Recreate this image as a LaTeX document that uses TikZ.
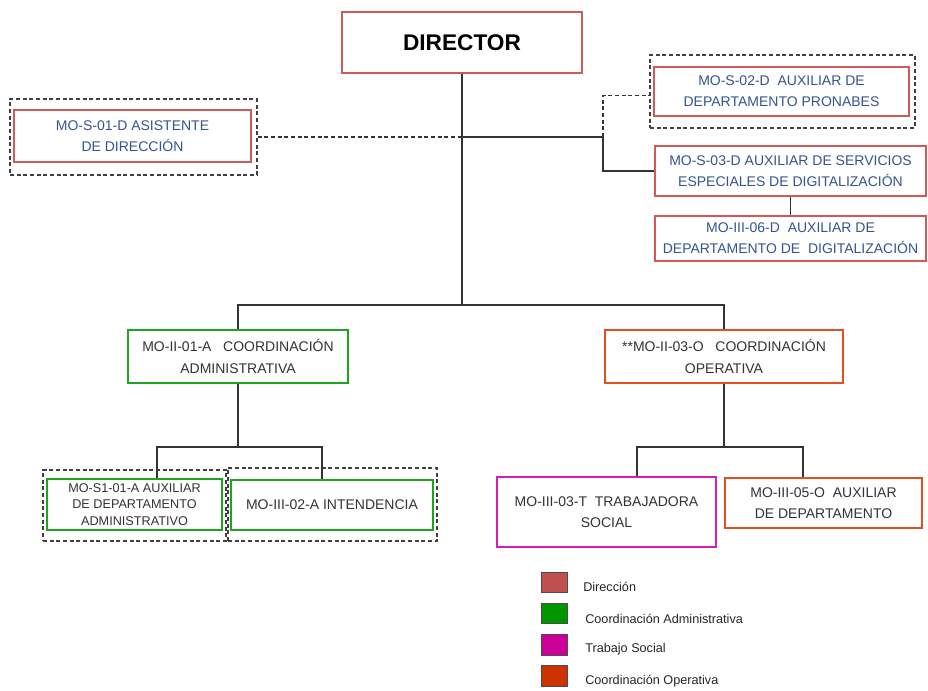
\documentclass[tikz,border=0pt]{standalone}
\usepackage{fontspec}
\setmainfont{Liberation Sans}
\definecolor{dirred}{RGB}{212,88,88}
\definecolor{admgreen}{RGB}{30,165,30}
\definecolor{opsorange}{RGB}{228,78,32}
\definecolor{socmag}{RGB}{214,30,176}
\definecolor{dirtext}{RGB}{52,84,146}
\definecolor{legdir}{RGB}{192,80,77}
\definecolor{legadm}{RGB}{0,150,0}
\definecolor{legsoc}{RGB}{204,0,153}
\definecolor{legops}{RGB}{204,51,0}
\usetikzlibrary{positioning,calc}
\tikzset{
  post/.style={draw, line width=1.6pt, fill=white, align=center, inner sep=2pt,
              font=\fontsize{10.5}{16}\selectfont, text=black!80},
  dirbox/.style={post, draw=dirred, text=dirtext},
  admbox/.style={post, draw=admgreen},
  opsbox/.style={post, draw=opsorange},
  socbox/.style={post, draw=socmag},
  frame/.style={draw=black!75, densely dashed, line width=0.9pt},
  link/.style={draw=black!80, line width=1pt},
  legsq/.style={draw=black!70, line width=0.8pt, minimum width=20pt, minimum height=15.5pt, inner sep=0pt},
  legtxt/.style={anchor=west, font=\fontsize{9.5}{11}\selectfont, text=black!85, inner sep=0pt},
}

\begin{document}
\begin{tikzpicture}[x=0.75pt,y=-0.75pt]
  \useasboundingbox (0,0) rectangle (928,690);
  % direccion
  \node[dirbox, minimum width=180pt, minimum height=45.75pt,
        font=\fontsize{17}{20}\selectfont\bfseries, text=black] (dir) at (462,42.5) {DIRECTOR};
  \node[frame, minimum width=185.25pt, minimum height=57pt] (asisG) at (133.5,137) {};
  \node[dirbox, minimum width=177.75pt, minimum height=39pt] (asis) at (132.5,136)
        {MO-S-01-D ASISTENTE\\DE DIRECCIÓN};
  \node[frame, minimum width=198.75pt, minimum height=54.75pt] (pronG) at (782.5,91.5) {};
  \node[dirbox, minimum width=191.25pt, minimum height=36.75pt] (pron) at (781.5,91.5)
        {MO-S-02-D\ \ AUXILIAR DE\\DEPARTAMENTO PRONABES};
  \node[dirbox, minimum width=203.25pt, minimum height=37.5pt] (serv) at (790.5,171)
        {MO-S-03-D AUXILIAR DE SERVICIOS\\ESPECIALES DE DIGITALIZACIÓN};
  \node[dirbox, minimum width=203.25pt, minimum height=33.75pt] (digi) at (790.5,238.5)
        {MO-III-06-D\ \ AUXILIAR DE\\DEPARTAMENTO DE\ \ DIGITALIZACIÓN};
  % coordinaciones
  \node[admbox, minimum width=165pt, minimum height=39.75pt] (cadm) at (238,356.5)
        {MO-II-01-A\ \ \ COORDINACIÓN\\ADMINISTRATIVA};
  \node[opsbox, minimum width=178.5pt, minimum height=39.75pt] (cops) at (724,356.5)
        {**MO-II-03-O\ \ \ COORDINACIÓN\\OPERATIVA};
  \node[frame, minimum width=137.25pt, minimum height=53.25pt] (aux1G) at (134.5,505.5) {};
  \node[admbox, minimum width=131.25pt, minimum height=38.25pt,
        font=\fontsize{9.5}{12.5}\selectfont] (aux1) at (134.5,504.5)
        {MO-S1-01-A AUXILIAR\\DE DEPARTAMENTO\\ADMINISTRATIVO};
  \node[frame, minimum width=156.75pt, minimum height=54.75pt] (inteG) at (332.5,504.5) {};
  \node[admbox, minimum width=151.5pt, minimum height=37.5pt] (inte) at (332,505)
        {MO-III-02-A INTENDENCIA};
  \node[socbox, minimum width=164.25pt, minimum height=52.5pt] (trab) at (606.5,512)
        {MO-III-03-T\ \ TRABAJADORA\\SOCIAL};
  \node[opsbox, minimum width=147.75pt, minimum height=37.5pt] (auxd) at (823.5,503)
        {MO-III-05-O\ \ AUXILIAR\\DE DEPARTAMENTO};
  % uniones
  \coordinate (bus) at (462,305);
  \coordinate (rj) at (603,137);
  \coordinate (a1) at (157,447);
  \coordinate (a2) at (322,447);
  \coordinate (o1) at (637,447);
  \coordinate (o2) at (803,447);
  \draw[link] (dir.south) -- (bus);
  \draw[link] (cadm.north) -- (cadm.north |- bus) -- (cops.north |- bus) -- (cops.north);
  \draw[link] (dir.south |- rj) -- (rj) |- (serv.west);
  \draw[link, densely dashed] (rj) |- ($(pronG.west)+(0,4)$);
  \draw[link, densely dashed] (asisG.east) -- (asisG.east -| dir.south);
  \draw[link] (serv.south) -- (digi.north);
  \draw[link] (cadm.south) -- (cadm.south |- a1);
  \draw[link] (a1 |- aux1.north) -- (a1) -- (a2) -- (a2 |- inte.north);
  \draw[link] (cops.south) -- (cops.south |- o1);
  \draw[link] (o1 |- trab.north) -- (o1) -- (o2) -- (o2 |- auxd.north);
  % leyenda
  \node[legsq, fill=legdir] (legD) at (554.5,582.5) {};
  \node[legsq, fill=legadm] (legA) at (554.5,613.5) {};
  \node[legsq, fill=legsoc] (legT) at (554.5,645) {};
  \node[legsq, fill=legops] (legO) at (554.5,676) {};
  \node[legtxt] (legDt) at (583,587) {Dirección};
  \node[legtxt] (legAt) at (585,619) {Coordinación Administrativa};
  \node[legtxt] (legTt) at (585,649) {Trabajo Social};
  \node[legtxt] (legOt) at (585,681) {Coordinación Operativa};
\end{tikzpicture}
\end{document}
